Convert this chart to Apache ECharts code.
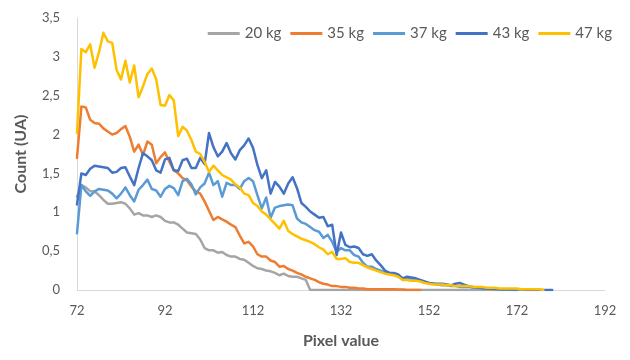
<!DOCTYPE html>
<html>
<head>
<meta charset="utf-8">
<script src="https://cdn.jsdelivr.net/npm/echarts@6/dist/echarts.min.js"></script>
<style>html,body{margin:0;padding:0;background:#fff}#c{width:630px;height:360px}</style>
</head>
<body>
<div id="c"></div>
<script>
// x values start at 72 and step by 1
const xStart = 72;
const seriesNames = ['20 kg', '35 kg', '37 kg', '43 kg', '47 kg'];
const xTicks = [72, 92, 112, 132, 152, 172, 192];

const kg20 = [1.20,1.35,1.32,1.27,1.27,1.22,1.16,1.11,1.11,1.12,1.13,1.11,1.05,0.97,0.99,0.96,0.96,0.94,0.96,0.94,
  0.89,0.87,0.87,0.84,0.79,0.74,0.73,0.72,0.65,0.54,0.51,0.51,0.48,0.49,0.45,0.43,0.43,0.40,0.39,0.35,
  0.31,0.28,0.27,0.25,0.24,0.22,0.19,0.21,0.18,0.17,0.17,0.15,0.13,0,0,0,0,0,0,0,
  0,0,0,0,0,0,0,0,0,0,0,0,0,0,0,0,0,0,0,0,
  0,0,0,0,0,0,0,0,0,0,0,0,0,0,0,0,0,0,0,0,0];

const kg35 = [1.70,2.36,2.35,2.19,2.15,2.14,2.08,2.04,2.00,2.02,2.07,2.11,1.97,1.78,1.87,1.74,1.91,1.87,1.63,1.71,
  1.77,1.65,1.54,1.50,1.44,1.41,1.33,1.27,1.24,1.14,1.02,0.90,0.94,0.91,0.88,0.84,0.81,0.70,0.60,0.62,
  0.56,0.46,0.43,0.43,0.38,0.36,0.30,0.31,0.27,0.25,0.22,0.20,0.17,0.15,0.13,0.10,0.08,0.07,0.05,0.05,
  0.04,0.04,0.03,0.03,0.02,0.02,0.01,0.01,0.01,0.01,0.01,0.01,0.01,0.005,0.005,0,0,0,0];

const kg37 = [0.73,1.35,1.27,1.21,1.27,1.30,1.29,1.28,1.24,1.18,1.24,1.32,1.22,1.14,1.29,1.35,1.42,1.30,1.28,1.20,
  1.30,1.34,1.31,1.22,1.40,1.43,1.36,1.23,1.32,1.37,1.51,1.35,1.40,1.20,1.38,1.35,1.35,1.30,1.40,1.44,
  1.40,1.22,1.05,1.19,0.93,1.06,1.08,1.09,1.10,1.09,0.92,0.87,0.85,0.81,0.77,0.75,0.67,0.71,0.62,0.49,
  0.54,0.51,0.51,0.45,0.43,0.35,0.30,0.30,0.27,0.25,0.23,0.22,0.21,0.19,0.15,0.14,0.15,0.14,0.12,0.10,
  0.09,0.08,0.07,0.06,0.06,0.05,0.05,0.04,0.04,0.04,0.03,0.03,0.02,0.02,0.02,0.01,0.01,0.01,0.01,0,0];

const kg43 = [1.10,1.50,1.48,1.56,1.60,1.59,1.58,1.57,1.51,1.52,1.57,1.58,1.46,1.35,1.57,1.76,1.72,1.67,1.54,1.51,
  1.68,1.70,1.54,1.53,1.67,1.69,1.57,1.57,1.70,1.62,2.02,1.84,1.72,1.78,1.89,1.76,1.68,1.80,1.86,1.95,
  1.83,1.61,1.44,1.54,1.24,1.39,1.33,1.24,1.37,1.45,1.31,1.12,1.07,1.01,0.97,0.93,0.94,0.82,0.84,0.45,
  0.74,0.58,0.55,0.56,0.54,0.46,0.44,0.46,0.38,0.32,0.25,0.22,0.22,0.20,0.15,0.17,0.16,0.15,0.13,0.11,
  0.09,0.08,0.08,0.08,0.07,0.06,0.08,0.09,0.07,0.05,0.04,0.03,0.03,0.02,0.02,0.02,0.01,0.01,0.01,0.01,
  0.01,0.005,0,0,0,0,0,0,0];

const kg47 = [2.02,3.10,3.06,3.16,2.86,3.06,3.31,3.20,3.18,2.83,2.71,2.95,2.67,2.89,2.48,2.62,2.78,2.85,2.71,2.38,
  2.37,2.51,2.44,1.98,2.10,2.05,1.93,1.78,1.75,1.65,1.52,1.60,1.54,1.48,1.45,1.42,1.36,1.32,1.24,1.22,
  1.12,1.08,1.01,0.97,0.91,0.85,0.79,0.89,0.76,0.72,0.69,0.66,0.64,0.62,0.59,0.55,0.52,0.46,0.49,0.40,
  0.40,0.41,0.36,0.35,0.35,0.32,0.29,0.27,0.25,0.23,0.21,0.20,0.19,0.17,0.13,0.13,0.12,0.12,0.11,0.09,
  0.08,0.07,0.07,0.07,0.06,0.06,0.05,0.05,0.05,0.05,0.04,0.04,0.04,0.03,0.03,0.03,0.02,0.02,0.02,0.02,
  0.02,0.01,0.01,0.01,0.01,0.01,0];

const colors = ['#A5A5A5', '#ED7D31', '#5B9BD5', '#4472C4', '#FFC000'];
const allData = [kg20, kg35, kg37, kg43, kg47];

function pairs(arr) { return arr.map((v, i) => [xStart + i, v]); }

const chart = echarts.init(document.getElementById('c'), null, { renderer: 'canvas' });
const FONT = 'Lato, "Open Sans", sans-serif';
chart.setOption({
  animation: false,
  textStyle: { fontFamily: FONT },
  grid: { left: 77, right: 25, top: 18, bottom: 70, containLabel: false },
  legend: {
    top: 21, right: 13,
    icon: 'rect', itemWidth: 32, itemHeight: 3, itemGap: 9,
    textStyle: { color: '#595959', fontSize: 15, fontFamily: FONT },
    data: seriesNames
  },
  xAxis: {
    type: 'value', min: 72, max: 192, interval: 20,
    name: 'Pixel value', nameLocation: 'middle', nameGap: 43,
    nameTextStyle: { color: '#595959', fontSize: 16, fontWeight: 'bold', fontFamily: FONT },
    axisLine: { show: true, lineStyle: { color: '#D9D9D9', width: 1 } },
    axisTick: { show: false },
    splitLine: { show: false },
    axisLabel: { color: '#595959', fontSize: 13, margin: 14, fontFamily: FONT,
      formatter: v => xTicks.includes(v) ? String(v) : '' }
  },
  yAxis: {
    type: 'value', min: 0, max: 3.5, interval: 0.5,
    name: 'Count (UA)', nameLocation: 'middle', nameGap: 48,
    nameTextStyle: { color: '#595959', fontSize: 16, fontWeight: 'bold', fontFamily: FONT },
    axisLine: { show: true, lineStyle: { color: '#D9D9D9', width: 1 } },
    axisTick: { show: false },
    splitLine: { show: false },
    axisLabel: { color: '#595959', fontSize: 13, margin: 17, fontFamily: FONT,
      formatter: v => String(v).replace('.', ',') }
  },
  series: seriesNames.map((n, k) => ({
    name: n, type: 'line', data: pairs(allData[k]),
    showSymbol: false, symbol: 'none',
    lineStyle: { color: colors[k], width: 2.5, join: 'round', cap: 'round' },
    itemStyle: { color: colors[k] }
  }))
});
</script>
</body>
</html>
